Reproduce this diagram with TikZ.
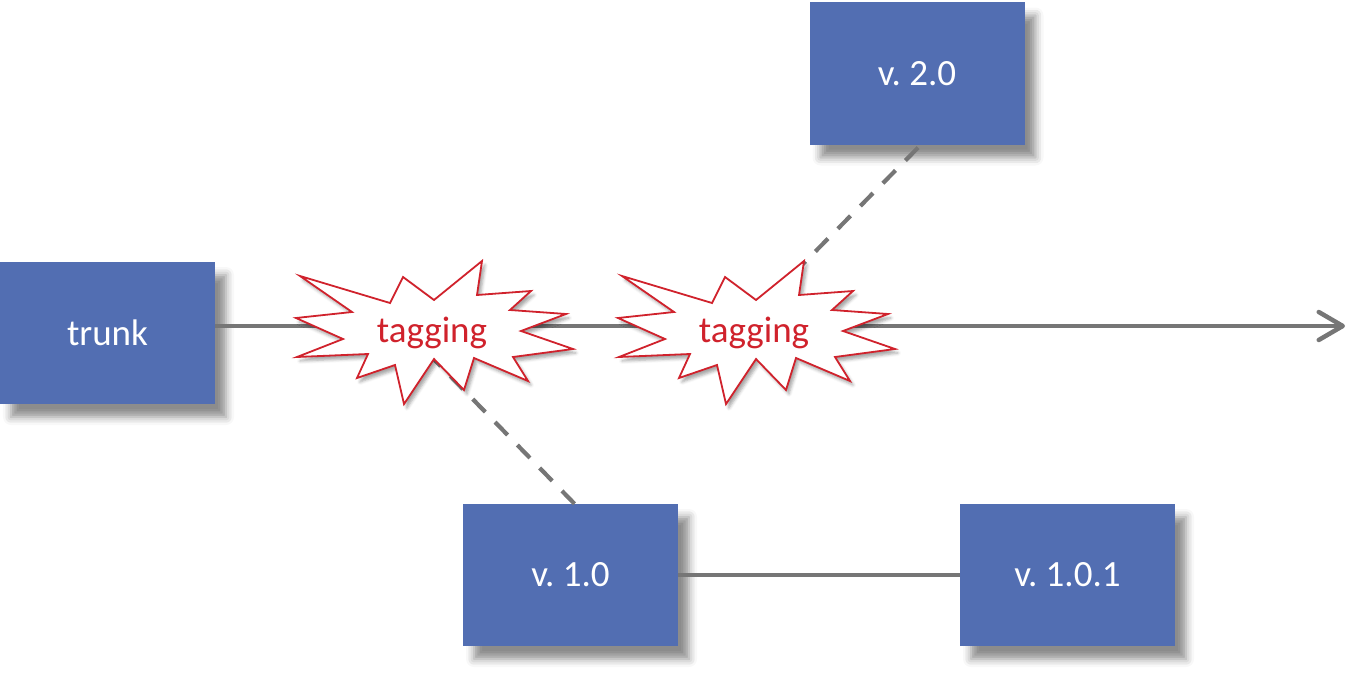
\documentclass[tikz,border=0pt]{standalone}
\usepackage{fontspec}
\setmainfont{Carlito}
\usetikzlibrary{arrows.meta,shadows.blur}
\definecolor{boxblue}{RGB}{82,110,178}
\definecolor{linegray}{RGB}{118,118,118}
\definecolor{tagred}{RGB}{208,34,44}
\frenchspacing
\tikzset{
  verbox/.style={fill=boxblue, draw=none, minimum width=215pt, minimum height=142pt, inner sep=0pt,
    text=white, font=\fontsize{37}{44}\selectfont,
    blur shadow={shadow xshift=11pt, shadow yshift=-13pt, shadow blur radius=8pt, shadow opacity=45}},
  conn/.style={draw=linegray, line width=4.5pt},
  dconn/.style={draw=linegray, line width=4.2pt, dash pattern=on 18pt off 14pt},
  taglabel/.style={text=tagred, font=\fontsize{37}{44}\selectfont, inner sep=0pt},
  starburstpic/.pic={
    \filldraw[fill=white, draw=tagred, line width=1.8pt, line join=miter,
      blur shadow={shadow xshift=3pt, shadow yshift=-4pt, shadow blur radius=3pt, shadow opacity=35}]
      (-132,-54) -- (-42,-27) -- (-29,-53) -- (2,-30) -- (50,-69) -- (45,-35) -- (99,-39) -- (78,-20)
      -- (134,-16) -- (89,1) -- (141,19) -- (81,27) -- (96,51) -- (42,28) -- (32,60) -- (2,29)
      -- (-28,74) -- (-37,35) -- (-75,48) -- (-64,24) -- (-135,27) -- (-89,9) -- (-136,-12) -- (-80,-18) -- cycle;
  }
}
\begin{document}
\begin{tikzpicture}[x=1pt,y=-1pt]
\useasboundingbox (0,0) rectangle (1372,677);
% boxes
\node[verbox] (trunk) at (107.5,333) {trunk};
\node[verbox] (v20) at (917,73.5) {v. 2.0};
\node[verbox] (v10) at (570.5,575) {v. 1.0};
\node[verbox] (v101) at (1067.5,575) {v. 1.0.1};
% coordinates
\coordinate (end) at (1345,326);
\coordinate (d1) at (425,350);
\coordinate (d2) at (795,272);
% connectors
\draw[conn, -{Straight Barb[length=24pt, width=28pt, round]}] (trunk.east |- end) -- (end);
\draw[conn] (v10.east) -- (v101.west);
\draw[dconn] ([xshift=4pt]v10.north) -- (d1);
\draw[dconn] ([xshift=1pt,yshift=-3pt]v20.south) -- (d2);
% starbursts
\pic at (432,330) {starburstpic};
\pic at (754,330) {starburstpic};
\node[taglabel] (tag1) at (432,333) {tagging};
\node[taglabel] (tag2) at (754,333) {tagging};
\end{tikzpicture}
\end{document}
